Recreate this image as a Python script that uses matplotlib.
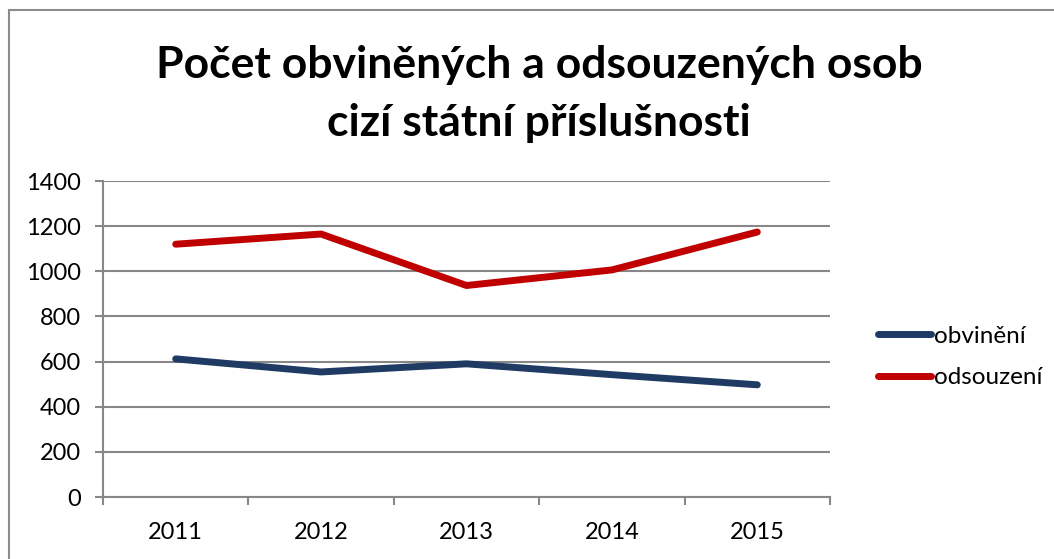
import matplotlib.pyplot as plt
from matplotlib.patches import Rectangle

# Data
years = ['2011', '2012', '2013', '2014', '2015']
obvineni = [612, 554, 590, 542, 497]
odsouzeni = [1120, 1165, 937, 1006, 1174]
y_ticks = [0, 200, 400, 600, 800, 1000, 1200, 1400]

plt.rcParams['font.family'] = ['Lato', 'DejaVu Sans']

fig = plt.figure(figsize=(10.54, 5.59), dpi=100)
ax = fig.add_axes([103 / 1054, 1 - 497 / 559, 727 / 1054, 316 / 559])

x = list(range(len(years)))
ax.plot(x, obvineni, color='#1F3B63', lw=5, solid_capstyle='round', label='obvinění', zorder=3)
ax.plot(x, odsouzeni, color='#C00000', lw=5, solid_capstyle='round', label='odsouzení', zorder=3)

ax.set_xlim(-0.5, len(years) - 0.5)
ax.set_ylim(0, 1400)
ax.set_yticks(y_ticks)
ax.set_xticks(x)
ax.set_xticklabels(years)
ax.set_xticks([i - 0.5 for i in range(len(years) + 1)], minor=True)

grid_color = '#878787'
ax.grid(axis='y', color=grid_color, lw=1.5, zorder=1)
for side in ['top', 'right']:
    ax.spines[side].set_visible(False)
for side in ['left', 'bottom']:
    ax.spines[side].set_color(grid_color)
    ax.spines[side].set_linewidth(1.5)

ax.tick_params(axis='y', length=6, width=1.5, color=grid_color, pad=10, labelsize=17)
ax.tick_params(axis='x', which='major', length=0, pad=18, labelsize=17)
ax.tick_params(axis='x', which='minor', length=6, width=1.5, color=grid_color)

fig.text(539 / 1054, 1 - 94 / 559, 'Počet obviněných a odsouzených osob\ncizí státní příslušnosti',
         ha='center', va='center', fontsize=32, fontweight='bold', linespacing=1.55)

leg = ax.legend(loc='center left', bbox_to_anchor=(856 / 1054, 1 - 357 / 559),
                bbox_transform=fig.transFigure, frameon=False, fontsize=17.5,
                handlelength=2.2, handletextpad=0.1, labelspacing=0.85)

# outer chart frame
fig.patches.append(Rectangle((9 / 1054, -0.1), 1.2, 1.1 - 10 / 559, transform=fig.transFigure,
                             fill=False, edgecolor='#8c8c8c', lw=1.5))

fig.savefig('out.png', dpi=100)
